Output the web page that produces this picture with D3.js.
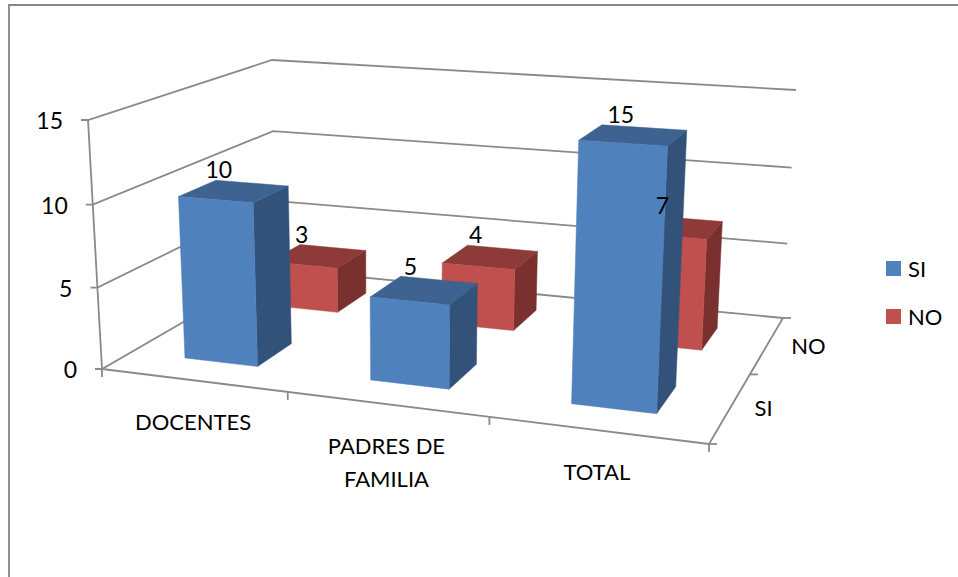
<!DOCTYPE html>
<html>
<head>
<meta charset="utf-8">
<script src="https://cdn.jsdelivr.net/npm/d3@7/dist/d3.min.js"></script>
<style>
html,body{margin:0;padding:0;background:#fff;overflow:hidden}
svg{display:block}
text{font-family:Lato,"Open Sans",sans-serif;fill:#000}
</style>
</head>
<body>
<svg id="c" width="958" height="577"></svg>
<script>
const categories = ["DOCENTES", "PADRES DE|FAMILIA", "TOTAL"];
const seriesNames = ["SI", "NO"];
const siValues = [10, 5, 15];
const noValues = [3, 4, 7];
const valueMax = 15;
const valueTickCount = 3;

const colors = {
  SI: {front: "#4F81BD", top: "#3E6391", side: "#32527A"},
  NO: {front: "#C0504D", top: "#8E3A38", side: "#7A302E"}
};
const gridColor = "#8A8A8A";

const svg = d3.select("#c");
const FS = 22;

// Category, value and depth scales, each into the unit cube
const xBand = d3.scaleBand().domain(d3.range(categories.length)).range([0, 1]).paddingInner(0.6).paddingOuter(0.3);
const xStep = d3.scaleLinear().domain([0, categories.length]).range([0, 1]);
const yScale = d3.scaleLinear().domain([0, valueMax]).range([0, 1]);
const zBand = d3.scaleBand().domain(seriesNames).range([0, 1]).paddingInner(0.6).paddingOuter(0.3);
const zStep = d3.scaleLinear().domain([0, seriesNames.length]).range([0, 1]);

// Camera: screen position and homogeneous weight of the eight cube corners
// index: x(0 left,1 right), y(0 floor,1 top), z(0 front,1 back)
const cube = {
  "000": [102, 369, 1.000], "100": [709, 444, 0.882],
  "010": [88, 120, 0.970],  "110": [723, 164, 0.855],
  "001": [275, 269, 1.187], "101": [783, 318, 1.088],
  "011": [272, 60, 1.150],  "111": [796, 90, 1.055]
};
function project(x, y, z) {
  let X = 0, Y = 0, W = 0;
  for (const key in cube) {
    const [cx, cy, cz] = key.split("").map(Number);
    const t = (cx ? x : 1 - x) * (cy ? y : 1 - y) * (cz ? z : 1 - z);
    const [px, py, w] = cube[key];
    X += t * w * px; Y += t * w * py; W += t * w;
  }
  return [X / W, Y / W];
}
const line = d3.line();

const stroke = (g, pts) => g.append("path").attr("d", line(pts))
  .attr("fill", "none").attr("stroke", gridColor).attr("stroke-width", 1.8);

// Outer chart frame, open to the right and at the bottom
const frame = svg.append("g");
frame.append("path").attr("d", line([[9, 577], [9, 5], [958, 5]]))
  .attr("fill", "none").attr("stroke", "#868686").attr("stroke-width", 1.8);

// Walls and gridlines
const grid = svg.append("g");
yScale.ticks(valueTickCount).forEach(v => {
  const y = yScale(v);
  const a = project(0, y, 0), b = project(0, y, 1), c = project(1, y, 1);
  stroke(grid, [[a[0] - 7, a[1]], a, b, c]);
  svg.append("text").attr("x", a[0] - 25).attr("y", a[1] + 1).attr("dy", "0.35em")
    .attr("text-anchor", "end").attr("font-size", FS + 1).text(v);
});
// Axes on the floor
stroke(grid, [project(0, 0, 0), project(0, 1, 0)]);
stroke(grid, [project(0, 0, 0), project(1, 0, 0)]);
stroke(grid, [project(1, 0, 0), project(1, 0, 1)]);
d3.range(categories.length + 1).forEach(i => {
  const p = project(xStep(i), 0, 0);
  stroke(grid, [p, [p[0], p[1] + 8]]);
});
d3.range(seriesNames.length + 1).forEach(i => {
  const p = project(1, 0, zStep(i));
  stroke(grid, [p, [p[0] + 8, p[1]]]);
});

// Bars: back series first
const valuesBySeries = {SI: siValues, NO: noValues};
const bars = svg.append("g");
["NO", "SI"].forEach(s => {
  valuesBySeries[s].forEach((v, i) => {
    const x0 = xBand(i), x1 = x0 + xBand.bandwidth();
    const z0 = zBand(s), z1 = z0 + zBand.bandwidth();
    const y1 = yScale(v);
    const face = (pts, fill) => bars.append("path")
      .attr("d", line(pts) + "Z").attr("fill", fill).attr("stroke", fill).attr("stroke-width", 0.5);
    face([project(x1, 0, z0), project(x1, 0, z1), project(x1, y1, z1), project(x1, y1, z0)], colors[s].side);
    face([project(x0, y1, z0), project(x1, y1, z0), project(x1, y1, z1), project(x0, y1, z1)], colors[s].top);
    face([project(x0, 0, z0), project(x1, 0, z0), project(x1, y1, z0), project(x0, y1, z0)], colors[s].front);
  });
});

// Data labels
seriesNames.forEach(s => {
  valuesBySeries[s].forEach((v, i) => {
    const p = project(xBand(i) + xBand.bandwidth() / 2, yScale(v), zBand(s) + zBand.bandwidth());
    svg.append("text").attr("x", p[0] - 33 + 0.025 * (p[0] - 250)).attr("y", p[1] - 13).attr("dy", "0.35em")
      .attr("text-anchor", "middle").attr("font-size", FS + 1).text(v);
  });
});

// Category labels
categories.forEach((c, i) => {
  const p = project(xStep(i + 0.5), 0, 0);
  c.split("|").forEach((part, k) => {
    svg.append("text").attr("x", p[0]).attr("y", p[1] + 42 + k * 33).attr("dy", "0.35em")
      .attr("text-anchor", "middle").attr("font-size", FS).text(part);
  });
});

// Depth labels
seriesNames.forEach((s, i) => {
  const p = project(1, 0, zStep(i + 0.5));
  svg.append("text").attr("x", p[0] + 24).attr("y", p[1] + 1).attr("dy", "0.35em")
    .attr("font-size", FS).text(s);
});

// Legend
const legendY = d3.scalePoint().domain(seriesNames).range([269, 317]);
seriesNames.forEach(s => {
  svg.append("rect").attr("x", 886).attr("y", legendY(s) - 8).attr("width", 15).attr("height", 15)
    .attr("fill", colors[s].front);
  svg.append("text").attr("x", 908).attr("y", legendY(s)).attr("dy", "0.35em")
    .attr("font-size", FS).text(s);
});
</script>
</body>
</html>
